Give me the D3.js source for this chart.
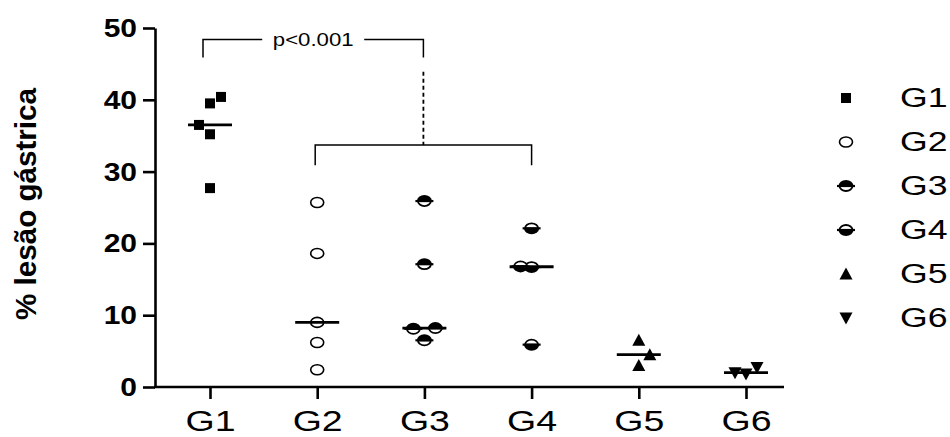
<!DOCTYPE html>
<html lang="pt">
<head>
<meta charset="UTF-8">
<title>% lesão gástrica por grupo</title>
<script src="https://d3js.org/d3.v7.min.js"></script>
<style>
  body { margin: 0; background: #fff; }
  svg { display: block; font-family: "Liberation Sans", Arial, sans-serif; }
</style>
</head>
<body>
<svg width="950" height="437"></svg>
<script>
const groups = ["G1", "G2", "G3", "G4", "G5", "G6"];
const g1 = [27.7, 35.2, 36.5, 39.5, 40.4];
const g2 = [2.4, 6.2, 9.0, 18.6, 25.7];
const g3 = [6.5, 8.1, 8.2, 17.1, 25.9];
const g4 = [5.9, 16.7, 16.8, 22.1];
const g5 = [3.0, 4.5, 6.5];
const g6 = [1.8, 2.0, 2.7];
const yTicks = [0, 10, 20, 30, 40, 50];
const yLabel = "% lesão gástrica";
const pLabel = "p<0.001";
// comparison brackets, in % units
const topBracket = [48.4, 45.9];
const dashedLink = [43.9, 33.7];
const lowBracket = [33.7, 30.9];

const values = [g1, g2, g3, g4, g5, g6];

const svg = d3.select("svg");
const x = d3.scalePoint().domain(groups).range([210, 746]);
const y = d3.scaleLinear().domain([0, 50]).range([387, 28]);

// axes
const yAxis = svg.append("g")
  .attr("transform", "translate(155,0)")
  .call(d3.axisLeft(y).tickValues(yTicks).tickSize(12).tickSizeOuter(0));
yAxis.select(".domain").attr("stroke-width", 2.6);
yAxis.selectAll(".tick line").attr("stroke-width", 2.6);
yAxis.selectAll(".tick text")
  .attr("x", -15).attr("dy", "0.34em")
  .attr("transform", "scale(1.2,1)")
  .attr("font-size", 25).attr("font-weight", "bold")
  .attr("font-family", "'Liberation Sans', Arial, sans-serif")
  .attr("fill", "#000");

const xAxis = svg.append("g")
  .attr("transform", `translate(0,${y(0)})`)
  .call(d3.axisBottom(x).tickSize(12).tickSizeOuter(0));
xAxis.select(".domain").remove();
xAxis.selectAll(".tick line").attr("stroke-width", 2.6);
xAxis.selectAll(".tick text")
  .attr("y", 44).attr("dy", null)
  .attr("transform", "scale(1.25,1)")
  .attr("font-size", 30)
  .attr("font-family", "'Liberation Sans', Arial, sans-serif")
  .attr("fill", "#000");
svg.append("line")
  .attr("x1", 154).attr("x2", 784)
  .attr("y1", y(0)).attr("y2", y(0))
  .attr("stroke", "#000").attr("stroke-width", 2.6);

svg.append("text")
  .attr("transform", "translate(28.5,204) scale(1.2,1) rotate(-90)")
  .attr("text-anchor", "middle")
  .attr("dy", "0.26em")
  .attr("font-size", 24)
  .attr("font-weight", "bold")
  .attr("textLength", 232)
  .attr("lengthAdjust", "spacingAndGlyphs")
  .text(yLabel);

// symbols
function drawSymbol(sel, k) {
  if (k === 0) {
    sel.append("rect").attr("x", -5).attr("y", -5).attr("width", 10).attr("height", 10).attr("fill", "#000");
  } else if (k === 1) {
    sel.append("ellipse").attr("rx", 6.5).attr("ry", 5)
      .attr("fill", "#fff").attr("stroke", "#000").attr("stroke-width", 1.6);
  } else if (k === 2 || k === 3) {
    const topFilled = k === 2;
    sel.append("path")
      .attr("d", `M-7.5,0 A7.5,6 0 0 ${topFilled ? 1 : 0} 7.5,0 Z`)
      .attr("fill", "#000");
    sel.append("path")
      .attr("d", `M-6.5,0 A6.5,5 0 0 ${topFilled ? 0 : 1} 6.5,0 Z`)
      .attr("fill", "#fff").attr("stroke", "#000").attr("stroke-width", 1.8);
    sel.append("line").attr("x1", -9).attr("x2", 9)
      .attr("stroke", "#000").attr("stroke-width", 2.2);
  } else if (k === 4) {
    sel.append("path").attr("d", "M0,-6.5L6.5,5.5L-6.5,5.5Z").attr("fill", "#000");
  } else {
    sel.append("path").attr("d", "M0,6.5L6.5,-5.5L-6.5,-5.5Z").attr("fill", "#000");
  }
}

// spread points that overlap vertically, alternating sides
const points = [];
let side = -1;
values.forEach((vals, k) => {
  const centred = [];
  vals.slice().sort(d3.ascending).forEach(v => {
    let dx = 0;
    if (centred.some(py => Math.abs(py - y(v)) < 13)) {
      dx = side * 11;
      side = -side;
    } else {
      centred.push(y(v));
    }
    points.push({ k, v, dx });
  });
});

svg.append("g").selectAll("g")
  .data(points)
  .join("g")
  .attr("transform", d => `translate(${x(groups[d.k]) + d.dx},${y(d.v)})`)
  .each(function (d) { drawSymbol(d3.select(this), d.k); });

// medians
svg.append("g").selectAll("line")
  .data(values)
  .join("line")
  .attr("x1", (d, i) => x(groups[i]) - 22)
  .attr("x2", (d, i) => x(groups[i]) + 22)
  .attr("y1", d => y(d3.median(d)))
  .attr("y2", d => y(d3.median(d)))
  .attr("stroke", "#000")
  .attr("stroke-width", 2.8);

// brackets
const br = svg.append("g").attr("stroke", "#000").attr("stroke-width", 1.5).attr("fill", "none");
const bL = x("G1") - 7, bR = x("G3") - 1, bMid = (bL + bR) / 2;
br.append("path").attr("d",
  `M${bL},${y(topBracket[1])}V${y(topBracket[0])}H${bMid - 51}` +
  `M${bMid + 51},${y(topBracket[0])}H${bR}V${y(topBracket[1])}`);
br.append("line")
  .attr("x1", bR).attr("x2", bR)
  .attr("y1", y(dashedLink[0])).attr("y2", y(dashedLink[1]))
  .attr("stroke-width", 1.8)
  .attr("stroke-dasharray", "4,3");
br.append("path").attr("d",
  `M${x("G2") - 2},${y(lowBracket[1])}V${y(lowBracket[0])}H${x("G4")}V${y(lowBracket[1])}`);

svg.append("text")
  .attr("transform", `translate(${bMid},${y(topBracket[0])}) scale(1.2,1)`)
  .attr("text-anchor", "middle")
  .attr("dy", "0.36em")
  .attr("font-size", 18.5)
  .text(pLabel);

// legend
const legend = svg.append("g").selectAll("g")
  .data(groups)
  .join("g")
  .attr("transform", (d, i) => `translate(846,${98 + i * 44})`);
legend.each(function (d, i) { drawSymbol(d3.select(this), i); });
legend.append("text")
  .attr("transform", "translate(54,-1) scale(1.32,1)")
  .attr("dy", "0.36em")
  .attr("font-size", 27)
  .text(d => d);
</script>
</body>
</html>
